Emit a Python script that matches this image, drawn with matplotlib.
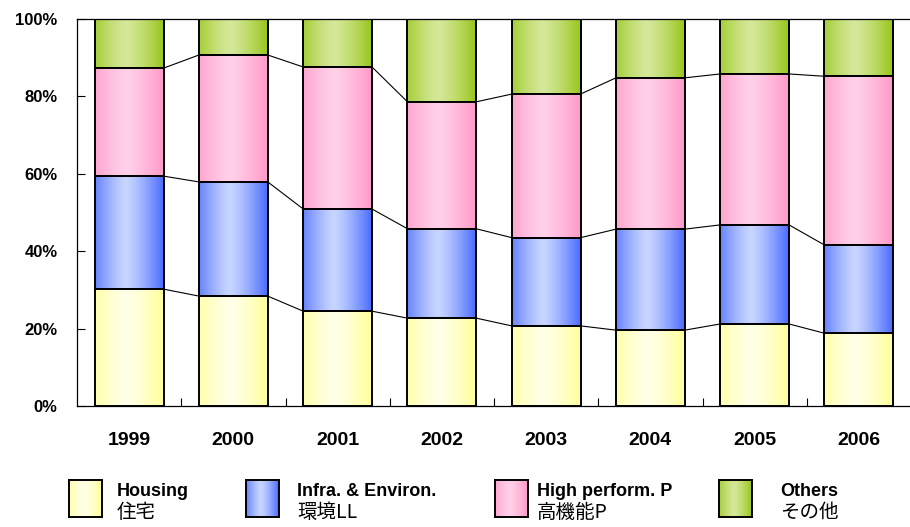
import numpy as np
import matplotlib.pyplot as plt
from matplotlib.colors import to_rgb

plt.rcParams['font.family'] = ['Noto Sans CJK JP', 'DejaVu Sans']

years = ['1999', '2000', '2001', '2002', '2003', '2004', '2005', '2006']
housing = [30.2, 28.4, 24.5, 22.7, 20.7, 19.6, 21.2, 18.8]
infra = [29.2, 29.5, 26.4, 23.1, 22.8, 26.1, 25.6, 22.8]
high_perf = [27.9, 32.8, 36.7, 32.8, 37.1, 39.1, 39.0, 43.6]
others = [12.7, 9.3, 12.4, 21.4, 19.4, 15.2, 14.2, 14.8]

names_en = ['Housing', 'Infra. & Environ.', 'High perform. P', 'Others']
names_jp = ['住宅', '環境LL', '高機能P', 'その他']
dark = ['#FFFF99', '#4A6CFF', '#FF99C8', '#99C61C']
light = ['#FFFFE8', '#C8D5FF', '#FFD0E8', '#D5E899']

latin = ['Liberation Sans', 'DejaVu Sans']


def gradient(c_dark, c_light, n=80):
    x = np.linspace(0, 1, n)
    t = np.clip(np.abs(x - 0.45) / 0.55, 0, 1) ** 1.3
    d = np.array(to_rgb(c_dark))
    l = np.array(to_rgb(c_light))
    return (l + (d - l) * t[:, None])[None, :, :]


fig = plt.figure(figsize=(9.1, 5.27), dpi=100)
W, H = 910, 527
ax = fig.add_axes([77 / W, 1 - 406 / H, 834 / W, 387 / H])

x = np.arange(len(years))
w = 0.66
series = [housing, infra, high_perf, others]
bottom = np.zeros(len(years))
tops = []
for k, vals in enumerate(series):
    bars = ax.bar(x, vals, w, bottom=bottom, fill=False, edgecolor='black',
                  linewidth=1.4, zorder=3)
    g = gradient(dark[k], light[k])
    for p in bars.patches:
        ax.imshow(g, extent=[p.get_x(), p.get_x() + p.get_width(),
                             p.get_y(), p.get_y() + p.get_height()],
                  aspect='auto', zorder=2, interpolation='bilinear')
    bottom = bottom + np.array(vals)
    tops.append(bottom.copy())

# connecting lines between bars
for level in tops[:3]:
    for i in range(len(years) - 1):
        ax.plot([x[i] + w / 2, x[i + 1] - w / 2], [level[i], level[i + 1]],
                color='black', linewidth=0.8, zorder=1)

ax.set_xlim(-0.5, len(years) - 0.5)
ax.set_ylim(0, 100)
ax.set_yticks(range(0, 101, 20))
ax.set_yticklabels([f'{v}%' for v in range(0, 101, 20)], fontweight='bold',
                   fontsize=12, family=latin)
ax.set_xticks(x)
ax.set_xticklabels(years, fontweight='bold', fontsize=14, family=latin)
ax.set_xticks(np.arange(0.5, len(years) - 1, 1), minor=True)
ax.tick_params(axis='x', which='major', length=0, pad=19)
ax.tick_params(axis='x', which='minor', direction='in', length=6, width=0.8)
ax.tick_params(axis='y', direction='in', length=6, width=0.8, pad=14)
ax.spines['right'].set_visible(False)
for s in ['left', 'bottom', 'top']:
    ax.spines[s].set_linewidth(0.9)

# legend
box_x = [69, 246, 495, 719]
text_x = [117, 297, 537, 780]
for k in range(4):
    lax = fig.add_axes([box_x[k] / W, 1 - 517 / H, 33 / W, 37 / H])
    lax.imshow(gradient(dark[k], light[k]), aspect='auto', extent=[0, 1, 0, 1])
    lax.set_xticks([])
    lax.set_yticks([])
    for s in lax.spines.values():
        s.set_linewidth(1.4)
    fig.text(text_x[k] / W, 1 - 491 / H, names_en[k], fontsize=13,
             fontweight='bold', va='center', ha='left', family=latin)
    fig.text(text_x[k] / W, 1 - 512 / H, names_jp[k], fontsize=14,
             va='center', ha='left')

fig.savefig('out.png', dpi=100)
